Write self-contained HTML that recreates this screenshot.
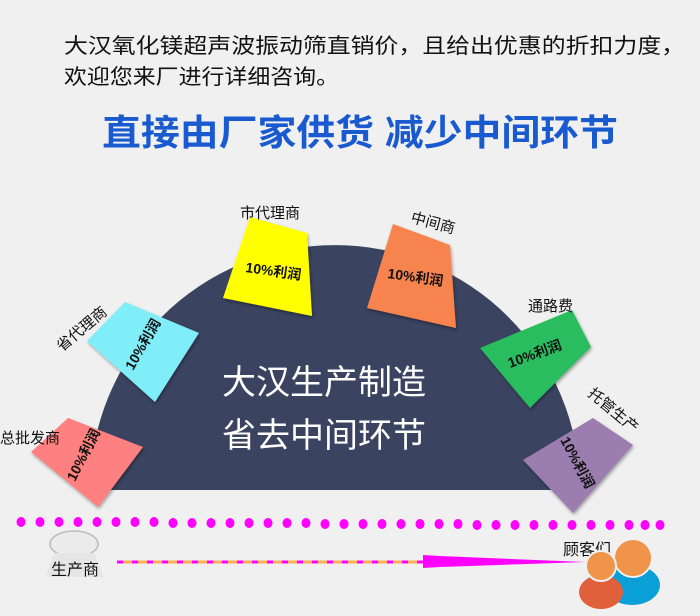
<!DOCTYPE html>
<html><head><meta charset="utf-8"><style>
html,body{margin:0;padding:0;background:#f0f0f0;}
svg{display:block;}
text{font-family:"Liberation Sans","Noto Sans CJK SC",sans-serif;}
</style></head><body>
<svg width="700" height="616" viewBox="0 0 700 616" xmlns="http://www.w3.org/2000/svg">
<rect width="700" height="616" fill="#f0f0f0"/>
<text x="64" y="53" font-size="21" fill="#111" textLength="621" lengthAdjust="spacingAndGlyphs">大汉氧化镁超声波振动筛直销价，且给出优惠的折扣力度，</text>
<text x="64" y="84" font-size="21" fill="#111" textLength="275" lengthAdjust="spacingAndGlyphs">欢迎您来厂进行详细咨询。</text>
<text x="102" y="145" font-size="36" font-weight="bold" fill="#1a5ad0" textLength="516" lengthAdjust="spacingAndGlyphs">直接由厂家供货  减少中间环节</text>
<defs><filter id="sh" x="-20%" y="-20%" width="140%" height="140%"><feDropShadow dx="1" dy="2" stdDeviation="1.5" flood-color="#000" flood-opacity="0.35"/></filter></defs>
<path d="M90 490 A245 245 0 0 1 580 490 Z" fill="#3a4360"/>
<text x="222" y="394" font-size="34" fill="#fff">大汉生产制造</text>
<text x="222" y="447" font-size="34" fill="#fff">省去中间环节</text>
<g filter="url(#sh)">
<polygon points="250,217 307,233 312,316 223,298" fill="#ffff00"/>
<polygon points="125,302 199,333 155,402 87,341" fill="#80eef8"/>
<polygon points="68,418 143,447 98,507 31,452" fill="#ff8080"/>
<polygon points="393,224 450,245 456,328 367,308" fill="#f78350"/>
<polygon points="480,348 572,310 591,347 530,408" fill="#2bbd5e"/>
<polygon points="523,460 593,418 633,445 573,513" fill="#9b7db0"/>
</g>
<g font-size="15" fill="#111" font-weight="bold">
<text x="240" y="218" font-weight="normal">市代理商</text>
<text transform="translate(245,272) rotate(8)" font-size="14">10%利润</text>
<text transform="translate(62,352) rotate(-40)" font-weight="normal">省代理商</text>
<text transform="translate(133,371) rotate(-60)" font-size="14">10%利润</text>
<text x="0" y="443" font-weight="normal">总批发商</text>
<text transform="translate(75,482) rotate(-63)" font-size="14">10%利润</text>
<text transform="translate(410,222) rotate(15)" font-weight="normal">中间商</text>
<text transform="translate(387,278) rotate(8)" font-size="14">10%利润</text>
<text x="528" y="311" font-weight="normal">通路费</text>
<text transform="translate(510,368) rotate(-20)" font-size="14">10%利润</text>
<text transform="translate(587,395) rotate(40)" font-weight="normal">托管生产</text>
<text transform="translate(560,440) rotate(62)" font-size="14">10%利润</text>
</g>
<g fill="#ff00ff">
<ellipse cx="21" cy="522" rx="4.5" ry="5"/><ellipse cx="40" cy="522" rx="4.5" ry="5"/><ellipse cx="59" cy="522" rx="4.5" ry="5"/><ellipse cx="78" cy="522" rx="4.5" ry="5"/><ellipse cx="97" cy="522" rx="4.5" ry="5"/><ellipse cx="116" cy="522" rx="4.5" ry="5"/><ellipse cx="135" cy="522" rx="4.5" ry="5"/><ellipse cx="154" cy="522" rx="4.5" ry="5"/><ellipse cx="173" cy="523" rx="4.5" ry="5"/><ellipse cx="192" cy="523" rx="4.5" ry="5"/><ellipse cx="211" cy="523" rx="4.5" ry="5"/><ellipse cx="230" cy="523" rx="4.5" ry="5"/><ellipse cx="249" cy="523" rx="4.5" ry="5"/><ellipse cx="268" cy="523" rx="4.5" ry="5"/><ellipse cx="287" cy="523" rx="4.5" ry="5"/><ellipse cx="306" cy="523" rx="4.5" ry="5"/><ellipse cx="325" cy="524" rx="4.5" ry="5"/><ellipse cx="344" cy="524" rx="4.5" ry="5"/><ellipse cx="363" cy="524" rx="4.5" ry="5"/><ellipse cx="382" cy="524" rx="4.5" ry="5"/><ellipse cx="401" cy="524" rx="4.5" ry="5"/><ellipse cx="420" cy="524" rx="4.5" ry="5"/><ellipse cx="439" cy="524" rx="4.5" ry="5"/><ellipse cx="458" cy="524" rx="4.5" ry="5"/><ellipse cx="477" cy="525" rx="4.5" ry="5"/><ellipse cx="496" cy="525" rx="4.5" ry="5"/><ellipse cx="515" cy="525" rx="4.5" ry="5"/><ellipse cx="534" cy="525" rx="4.5" ry="5"/><ellipse cx="553" cy="525" rx="4.5" ry="5"/><ellipse cx="572" cy="525" rx="4.5" ry="5"/><ellipse cx="591" cy="525" rx="4.5" ry="5"/><ellipse cx="610" cy="525" rx="4.5" ry="5"/><ellipse cx="629" cy="525" rx="4.5" ry="5"/><ellipse cx="645" cy="525" rx="4.5" ry="5"/><ellipse cx="660" cy="525" rx="4.5" ry="5"/>
</g>
<ellipse cx="74" cy="544" rx="24" ry="13" fill="#ebebeb" stroke="#bbb" stroke-width="1.5"/>
<polygon points="54,553 94,553 104,577 46,577" fill="#e6e6e6"/>
<text x="51" y="575" font-size="16" fill="#111">生产商</text>
<line x1="117" y1="562" x2="425" y2="562" stroke="#ffb050" stroke-width="3"/>
<line x1="117" y1="562" x2="425" y2="562" stroke="#ff00ff" stroke-width="3" stroke-dasharray="6 9"/>
<polygon points="423,555 440,556 585,562 440,567 423,568" fill="#ff00ff"/>
<text x="563" y="555" font-size="16" fill="#111">顾客们</text>
<ellipse cx="632" cy="585" rx="28" ry="20" fill="#0a9fd6"/>
<circle cx="633" cy="558" r="19" fill="#f0944a" stroke="#f0f0f0" stroke-width="2"/>
<ellipse cx="601" cy="592" rx="22" ry="17" fill="#e0603c"/>
<circle cx="601" cy="566" r="15" fill="#f0944a" stroke="#f0f0f0" stroke-width="2"/>
</svg>
</body></html>
